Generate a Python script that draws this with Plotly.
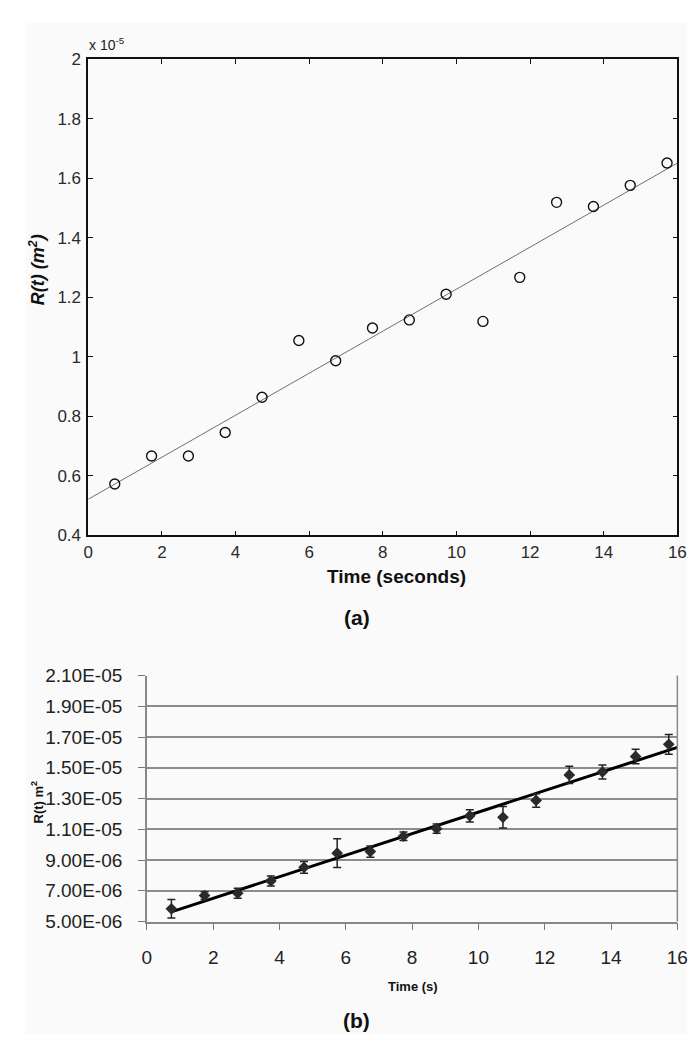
import numpy as np
import plotly.graph_objects as go

# ---- panel (a) data : R(t) in units of 1e-5 m^2 ----
t_a = [0.72, 1.72, 2.72, 3.72, 4.72, 5.72, 6.72, 7.72, 8.72, 9.72, 10.72, 11.72, 12.72, 13.72, 14.72, 15.72]
R_a = [0.573, 0.667, 0.667, 0.746, 0.864, 1.055, 0.987, 1.097, 1.124, 1.210, 1.119, 1.267, 1.519, 1.505, 1.576, 1.651]
a_yticks = [0.4, 0.6, 0.8, 1.0, 1.2, 1.4, 1.6, 1.8, 2.0]
a_yticktext = ["0.4", "0.6", "0.8", "1", "1.2", "1.4", "1.6", "1.8", "2"]
a_xticks = [0, 2, 4, 6, 8, 10, 12, 14, 16]

# ---- panel (b) data : R(t) in m^2 ----
t_b = [0.74, 1.74, 2.74, 3.74, 4.74, 5.74, 6.74, 7.74, 8.74, 9.74, 10.74, 11.74, 12.74, 13.74, 14.74, 15.74]
R_b_e6 = [5.83, 6.69, 6.84, 7.64, 8.53, 9.45, 9.55, 10.55, 11.04, 11.88, 11.78, 12.88, 14.54, 14.73, 15.74, 16.53]
err_b_e6 = [0.60, 0.25, 0.33, 0.33, 0.38, 0.94, 0.37, 0.27, 0.30, 0.40, 0.70, 0.44, 0.56, 0.46, 0.47, 0.64]
b_yticks_e6 = [5, 7, 9, 11, 13, 15, 17, 19, 21]
b_yticktext = ["5.00E-06", "7.00E-06", "9.00E-06", "1.10E-05", "1.30E-05", "1.50E-05", "1.70E-05", "1.90E-05", "2.10E-05"]
b_xticks = [0, 2, 4, 6, 8, 10, 12, 14, 16]

R_b = [v * 1e-6 for v in R_b_e6]
err_b = [v * 1e-6 for v in err_b_e6]
b_yticks = [v * 1e-6 for v in b_yticks_e6]

# linear fits (from the data)
sa, ia = np.polyfit(t_a, R_a, 1)
sb, ib = np.polyfit(t_b, R_b, 1)
fit_ax = [0, 16]
fit_ay = [ia + sa * x for x in fit_ax]
fit_bx = [t_b[0], 16]
fit_by = [ib + sb * x for x in fit_bx]

W, H = 696, 1050
def px(x):
    return x / W
def py(y):
    return 1 - y / H

BG = "#fafafa"
fig = go.Figure()

# panel (a)
fig.add_trace(go.Scatter(x=fit_ax, y=fit_ay, mode="lines",
                         line=dict(color="#707070", width=1), xaxis="x", yaxis="y",
                         showlegend=False, hoverinfo="skip"))
fig.add_trace(go.Scatter(x=t_a, y=R_a, mode="markers",
                         marker=dict(symbol="circle-open", size=10, color="#111",
                                     line=dict(width=1.4, color="#111")),
                         xaxis="x", yaxis="y", showlegend=False))

# panel (b)
fig.add_trace(go.Scatter(x=fit_bx, y=fit_by, mode="lines",
                         line=dict(color="#000", width=3), xaxis="x2", yaxis="y2",
                         showlegend=False, hoverinfo="skip"))
fig.add_trace(go.Scatter(x=t_b, y=R_b, mode="markers",
                         marker=dict(symbol="diamond", size=9, color="#2a2a2a"),
                         error_y=dict(type="data", array=err_b, visible=True,
                                      color="#222", thickness=1.5, width=4),
                         xaxis="x2", yaxis="y2", showlegend=False))

font_a = dict(family="Liberation Sans, Arial, sans-serif", size=17, color="#2a2a2a")
font_b = dict(family="Liberation Sans, Arial, sans-serif", size=19, color="#222")

fig.update_layout(
    width=W, height=H,
    margin=dict(l=0, r=0, t=0, b=0),
    paper_bgcolor="#ffffff", plot_bgcolor=BG,
    xaxis=dict(domain=[px(77), px(680)], range=[0, 16], tickvals=a_xticks,
               ticks="inside", ticklen=5, tickwidth=1.3, tickcolor="#111",
               showline=True, linecolor="#111", linewidth=1.6, mirror="ticks",
               showgrid=False, zeroline=False, tickfont=font_a, anchor="y"),
    yaxis=dict(domain=[py(528), py(42)], range=[0.4, 2.0], tickvals=a_yticks,
               ticktext=a_yticktext,
               ticks="inside", ticklen=5, tickwidth=1.3, tickcolor="#111",
               showline=True, linecolor="#111", linewidth=1.6, mirror="ticks",
               showgrid=False, zeroline=False, tickfont=font_a, anchor="x",
               ticklabelstandoff=2),
    xaxis2=dict(domain=[px(137), px(680)], range=[0, 16], tickvals=b_xticks,
                ticks="outside", ticklen=7, tickwidth=1.3, tickcolor="#777",
                showline=True, linecolor="#888", linewidth=1.5, mirror=False,
                showgrid=False, zeroline=False, tickfont=font_b, anchor="y2",
                ticklabelstandoff=11),
    yaxis2=dict(domain=[py(922), py(671)], range=[5e-6, 2.1e-5], tickvals=b_yticks,
                ticktext=b_yticktext,
                ticks="outside", ticklen=7, tickwidth=1.3, tickcolor="#777",
                showline=True, linecolor="#888", linewidth=1.5, mirror=False,
                showgrid=True, gridcolor="#8c8c8c", gridwidth=1.5,
                zeroline=False, tickfont=font_b, anchor="x2", ticklabelstandoff=12),
    shapes=[
        dict(type="rect", xref="paper", yref="paper", layer="below",
             x0=px(13), x1=px(690), y0=py(1037), y1=py(5),
             fillcolor=BG, line=dict(width=0)),
        dict(type="line", xref="paper", yref="paper",
             x0=px(680), x1=px(680), y0=py(922), y1=py(671),
             line=dict(color="#888", width=1.5)),
    ],
    annotations=[
        dict(text="x 10<sup>-5</sup>", x=px(76), y=py(27), xref="paper", yref="paper",
             xanchor="left", yanchor="middle", showarrow=False,
             font=dict(family="Liberation Sans, Arial, sans-serif", size=14, color="#222")),
        dict(text="<b><i>R(t) (m<sup>2</sup>)</i></b>", x=px(25), y=py(257), xref="paper", yref="paper",
             textangle=-90, xanchor="center", yanchor="middle", showarrow=False,
             font=dict(family="Liberation Sans, Arial, sans-serif", size=18, color="#111")),
        dict(text="<b>Time (seconds)</b>", x=px(393), y=py(570), xref="paper", yref="paper",
             xanchor="center", yanchor="middle", showarrow=False,
             font=dict(family="Liberation Sans, Arial, sans-serif", size=19, color="#111")),
        dict(text="<b>(a)</b>", x=px(352), y=py(612), xref="paper", yref="paper",
             xanchor="center", yanchor="middle", showarrow=False,
             font=dict(family="Liberation Sans, Arial, sans-serif", size=21, color="#111")),
        dict(text="<b>R(t) m<sup>2</sup></b>", x=px(25), y=py(800), xref="paper", yref="paper",
             textangle=-90, xanchor="center", yanchor="middle", showarrow=False,
             font=dict(family="Liberation Sans, Arial, sans-serif", size=13, color="#111")),
        dict(text="<b>Time (s)</b>", x=px(409), y=py(988), xref="paper", yref="paper",
             xanchor="center", yanchor="middle", showarrow=False,
             font=dict(family="Liberation Sans, Arial, sans-serif", size=13, color="#111")),
        dict(text="<b>(b)</b>", x=px(352), y=py(1023), xref="paper", yref="paper",
             xanchor="center", yanchor="middle", showarrow=False,
             font=dict(family="Liberation Sans, Arial, sans-serif", size=21, color="#111")),
    ],
)

fig.write_html("out.html")
